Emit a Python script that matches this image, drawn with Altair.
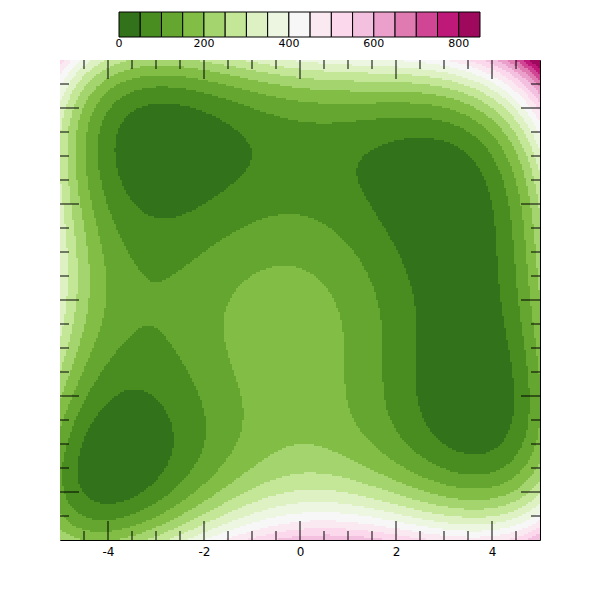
import numpy as np
import pandas as pd
import altair as alt

alt.data_transformers.disable_max_rows()

# Contour levels (colorbar 0..850, step 50) and band colours (PiYG reversed)
levels = list(range(0, 851, 50))
band_colors = ["#32721b", "#498d20", "#65a630", "#82be45", "#a4d46e", "#c3e697",
               "#def1c3", "#edf6e0", "#f7f7f7", "#fbe9f2", "#fbd8eb", "#f4c0df",
               "#eaa0cb", "#df7bb1", "#d14694", "#be1878", "#9e095e"]
cb_labels = [0, 200, 400, 600, 800]

# Axis ticks
major_ticks = [-4, -2, 0, 2, 4]
minor_ticks = [-4.5, -3.5, -3, -2.5, -1.5, -1, -0.5, 0.5, 1, 1.5, 2.5, 3, 3.5, 4.5]
axis_range = [-5, 5]

# Surface shown: Himmelblau field (minima near (3,2), (-2.8,3.1), (-3.8,-3.3), (3.6,-1.8))
n = 240
edges = np.linspace(axis_range[0], axis_range[1], n + 1)
cent = (edges[:-1] + edges[1:]) / 2
X0, Y0 = np.meshgrid(edges[:-1], edges[:-1])
X1, Y1 = np.meshgrid(edges[1:], edges[1:])
XC, YC = np.meshgrid(cent, cent)
Z = (XC**2 + YC - 11) ** 2 + (XC + YC**2 - 7) ** 2
df = pd.DataFrame({
    "x0": X0.ravel().round(4), "x1": X1.ravel().round(4),
    "y0": Y0.ravel().round(4), "y1": Y1.ravel().round(4),
    "z": Z.ravel().round(1),
})

xs = alt.Scale(domain=axis_range, nice=False, zero=False)
ys = alt.Scale(domain=axis_range, nice=False, zero=False)

def ax():
    return alt.Axis(values=major_ticks, ticks=False, domain=False, grid=False,
                    labelFont="DejaVu Sans", labelFontSize=12, labelColor="black",
                    labelPadding=6, title=None, labelFlush=False,
                    labelExpr="'' + datum.value")

heat = alt.Chart(df).mark_rect(strokeWidth=0).encode(
    x=alt.X("x0:Q", scale=xs, axis=ax()),
    x2="x1:Q",
    y=alt.Y("y0:Q", scale=ys, axis=ax()),
    y2="y1:Q",
    color=alt.Color("z:Q", scale=alt.Scale(type="threshold", domain=levels[1:-1],
                                           range=band_colors), legend=None),
)

def tick_layers(vals, length):
    d = pd.DataFrame({"v": vals})
    base = alt.Chart(d).mark_rule(color="black", strokeWidth=1)
    return [
        base.encode(x=alt.X("v:Q", scale=xs, axis=None), y=alt.value(480), y2=alt.value(480 - length)),
        base.encode(x=alt.X("v:Q", scale=xs, axis=None), y=alt.value(0), y2=alt.value(length)),
        base.encode(y=alt.Y("v:Q", scale=ys, axis=None), x=alt.value(0), x2=alt.value(length)),
        base.encode(y=alt.Y("v:Q", scale=ys, axis=None), x=alt.value(480), x2=alt.value(480 - length)),
    ]

ticks = tick_layers(major_ticks, 19) + tick_layers(minor_ticks, 9)

cb_scale = alt.Scale(domain=[levels[0], levels[-1]], range=[59, 420], nice=False, zero=False)
cb_df = pd.DataFrame({"lo": levels[:-1], "hi": levels[1:], "col": band_colors})
colorbar = alt.Chart(cb_df).mark_rect(stroke="black", strokeWidth=1).encode(
    x=alt.X("lo:Q", scale=cb_scale, axis=None),
    x2="hi:Q",
    y=alt.value(-48),
    y2=alt.value(-23),
    color=alt.Color("col:N", scale=None, legend=None),
)
cb_text = alt.Chart(pd.DataFrame({"v": cb_labels})).mark_text(
    font="DejaVu Sans", fontSize=11, color="black", baseline="middle", align="center"
).encode(
    x=alt.X("v:Q", scale=cb_scale, axis=None),
    y=alt.value(-16),
    text=alt.Text("v:Q"),
)

chart = alt.layer(heat, *ticks, colorbar, cb_text).resolve_scale(
    x="independent", color="independent"
).properties(
    width=480, height=480, autosize="none",
    padding={"left": 52, "top": 52, "right": 52, "bottom": 52},
).configure_view(stroke="black", strokeWidth=1)

chart.save("out.html", embed_options={"renderer": "svg", "actions": False})
